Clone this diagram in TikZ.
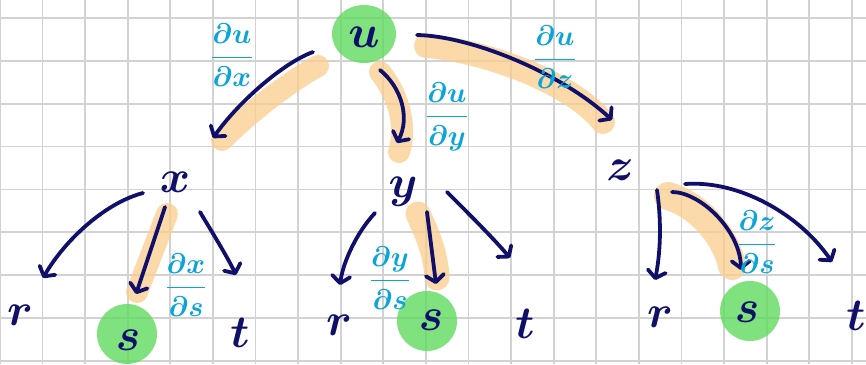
\documentclass[tikz,border=0pt]{standalone}
\usepackage{amsmath}
\usetikzlibrary{arrows.meta}
\definecolor{ink}{HTML}{10106B}
\definecolor{cyanink}{HTML}{0AA5D8}
\definecolor{hl}{HTML}{FCCD8D}
\definecolor{mark}{HTML}{60DB5E}
\definecolor{gridc}{HTML}{D2D2D2}

\begin{document}
\begin{tikzpicture}[x=1pt,y=-1pt,
  arr/.style={draw=ink, line width=3.8pt, line cap=round, line join=round,
    -{Straight Barb[round,length=7pt,width=18pt]}},
  hlband/.style={draw=hl, opacity=0.75, line width=22pt, line cap=round},
  ring/.style={fill=mark, opacity=0.8},
  var/.style={text=ink, font=\boldmath, scale=4.6, transform shape, inner sep=0pt, anchor=base},
  pd/.style={text=cyanink, font=\boldmath, scale=2.85, transform shape, inner sep=0pt}
]
\useasboundingbox (0,0) rectangle (866,364);
\fill[white] (0,0) rectangle (866,364);

% squared paper
\begin{scope}
\clip (0,0) rectangle (866,364);
\foreach \i in {0,...,20} \draw[gridc, line width=1.8pt] ({-0.2+42.6*\i},0) -- ({-0.2+42.6*\i},364);
\foreach \j in {0,...,8} \draw[gridc, line width=1.8pt] (0,{18+42.85*\j}) -- (866,{18+42.85*\j});
\end{scope}

% highlighted path u -> x, y, z -> s
\draw[hlband] (318,66) .. controls (292,80) and (252,110) .. (222,140);
\draw[hlband] (380,72) .. controls (396,92) and (408,122) .. (399,152);
\draw[hlband, line width=24pt] (426,46) .. controls (482,50) and (572,82) .. (603,122);
\draw[hlband] (167,214) -- (137,292);
\draw[hlband, line width=25pt] (418,214) .. controls (428,235) and (436,255) .. (437,278);
\draw[hlband, line width=28pt] (668,196) .. controls (702,206) and (727,240) .. (732,266);

% marked variables
\fill[ring] (364,34) ellipse [x radius=32, y radius=29];
\fill[ring] (127,334) circle [radius=30];
\fill[ring] (427,321) circle [radius=30];
\fill[ring] (750,311) circle [radius=30];

% variables
\node[var] (u) at (364,47) {$u$};
\node[var] (x) at (175,192) {$x$};
\node[var] (y) at (403,197) {$y$};
\node[var] (z) at (620,180) {$z$};
\node[var] (r1) at (20,325) {$r$};
\node[var] (s1) at (128,350) {$s$};
\node[var] (t1) at (240,347) {$t$};
\node[var] (r2) at (339,335) {$r$};
\node[var] (s2) at (431,330) {$s$};
\node[var] (t2) at (525,338) {$t$};
\node[var] (r3) at (660,327) {$r$};
\node[var] (s3) at (747,322) {$s$};
\node[var] (t3) at (856,330) {$t$};

% branches
\draw[arr] ([shift={(-51,5)}]u.base) .. controls (285,62) and (240,100) .. ([shift={(38,-54)}]x.base);
\draw[arr] ([shift={(16,23)}]u.base) .. controls (402,88) and (410,118) .. ([shift={(-6,-54)}]y.base);
\draw[arr] ([shift={(53,-12)}]u.base) .. controls (470,36) and (560,72) .. ([shift={(-8,-60)}]z.base);

\draw[arr] ([shift={(-32,1)}]x.base) .. controls (105,203) and (65,240) .. ([shift={(23,-47)}]r1.base);
\draw[arr] ([shift={(-10,15)}]x.base) -- ([shift={(8,-56)}]s1.base);
\draw[arr] ([shift={(25,20)}]x.base) .. controls (212,232) and (228,258) .. ([shift={(-4,-72)}]t1.base);

\draw[arr] ([shift={(-28,16)}]y.base) .. controls (357,232) and (343,262) .. ([shift={(1,-50)}]r2.base);
\draw[arr] ([shift={(24,15)}]y.base) -- ([shift={(5,-46)}]s2.base);
\draw[arr] ([shift={(44,-5)}]y.base) .. controls (470,215) and (495,240) .. ([shift={(-15,-80)}]t2.base);

\draw[arr] ([shift={(37,10)}]z.base) .. controls (662,225) and (660,255) .. ([shift={(-5,-47)}]r3.base);
\draw[arr] ([shift={(52,12)}]z.base) .. controls (700,192) and (740,230) .. ([shift={(-6,-52)}]s3.base);
\draw[arr] ([shift={(65,4)}]z.base) .. controls (740,180) and (800,215) .. ([shift={(-24,-68)}]t3.base);

% partial derivatives
\node[pd] (dudx) at (232,55) {$\dfrac{\partial u}{\partial x}$};
\node[pd] (dudy) at (447,117) {$\dfrac{\partial u}{\partial y}$};
\node[pd] (dudz) at (555,57) {$\dfrac{\partial u}{\partial z}$};
\node[pd] (dxds) at (186,285) {$\dfrac{\partial x}{\partial s}$};
\node[pd] (dyds) at (390,278) {$\dfrac{\partial y}{\partial s}$};
\node[pd] (dzds) at (757,242) {$\dfrac{\partial z}{\partial s}$};
\end{tikzpicture}
\end{document}
